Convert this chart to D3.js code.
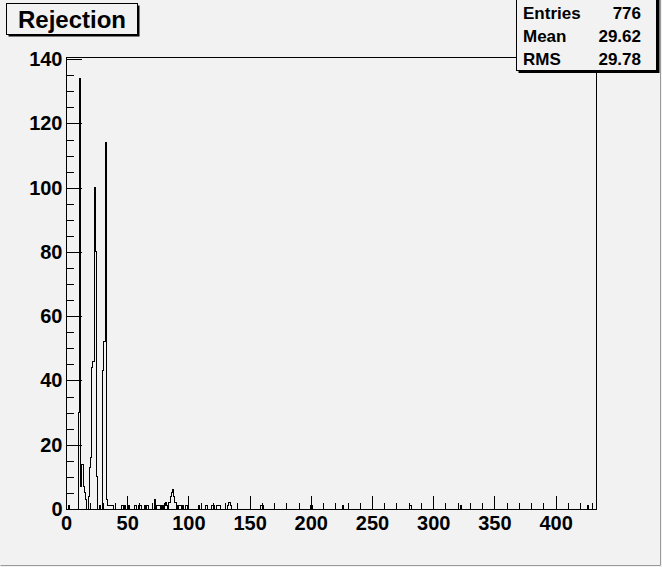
<!DOCTYPE html>
<html><head><meta charset="utf-8">
<script src="https://cdn.jsdelivr.net/npm/d3@7"></script>
<style>
html,body{margin:0;padding:0;background:#f2f2f2;}
svg{display:block;}
text{font-family:"Liberation Sans",Arial,Helvetica,sans-serif;font-weight:bold;fill:#000;}
</style></head>
<body>
<script>
// ---- data ----
const title = "Rejection";
const xRange = [0, 433];          // histogram axis range
const binWidth = 1;
// lower edges of non-empty bins and their contents
const binStarts = [2,10,11,12,13,14,15,16,18,19,20,21,22,23,24,25,27,30,31,32,33,34,35,36,37,38,
  45,46,48,51,56,57,59,60,61,64,66,72,74,75,76,78,80,81,82,84,85,86,87,88,89,90,92,93,95,98,
  108,114,115,119,120,123,124,125,132,133,134,159,160,200,226,281,322,426];
const binCounts = [1,30,134,7,14,7,5,3,4,13,16,44,46,100,80,10,1,43,52,114,3,1,1,1,1,1,
  1,1,1,1,1,1,1,1,1,1,1,3,1,1,1,1,1,2,1,2,4,5,6,4,2,1,1,1,1,1,
  1,1,1,1,1,1,1,1,1,2,1,1,1,1,1,1,1,1];
const yMax = 140.7;
const xMajorTicks = [0,50,100,150,200,250,300,350,400];
const yMajorTicks = [0,20,40,60,80,100,120,140];
const statLabels = ["Entries","Mean","RMS"];
const statValues = ["776","29.62","29.78"];

// ---- drawing ----
const W = 662, H = 567;
const svg = d3.select("body").append("svg").attr("width", W).attr("height", H);
svg.append("rect").attr("width", W).attr("height", H).attr("fill", "#f2f2f2");

const frame = {l: 66, r: 596, t: 57, b: 509};
const x = d3.scaleLinear().domain(xRange).range([frame.l, frame.r]);
const y = d3.scaleLinear().domain([0, yMax]).range([frame.b, frame.t]);

// full bin contents
const nBins = Math.round((xRange[1] - xRange[0]) / binWidth);
const contents = new Array(nBins).fill(0);
binStarts.forEach((s, i) => { contents[Math.round((s - xRange[0]) / binWidth)] = binCounts[i]; });

// frame
svg.append("rect").attr("x", frame.l + 0.5).attr("y", frame.t + 0.5)
  .attr("width", frame.r - frame.l).attr("height", frame.b - frame.t)
  .attr("fill", "none").attr("stroke", "#000").attr("stroke-width", 1);

// histogram outline
const pts = [[xRange[0], 0]];
contents.forEach((c, i) => {
  const lo = xRange[0] + i * binWidth;
  pts.push([lo, c]); pts.push([lo + binWidth, c]);
});
pts.push([xRange[1], 0]);
svg.append("path")
  .attr("d", d3.line().x(d => x(d[0])).y(d => y(d[1]))(pts))
  .attr("fill", "none").attr("stroke", "#000").attr("stroke-width", 1)
  .attr("shape-rendering", "crispEdges");

// x axis
const gx = svg.append("g").attr("transform", `translate(0,${frame.b + 0.5})`);
gx.append("g").call(d3.axisBottom(x).tickValues(d3.range(0, xRange[1], 10)).tickSize(-7).tickSizeOuter(0).tickFormat(""));
gx.append("g").call(d3.axisBottom(x).tickValues(xMajorTicks).tickSize(-14).tickSizeOuter(0).tickPadding(6).tickFormat(d3.format("d")));
gx.selectAll(".domain").remove();
gx.selectAll("text").attr("font-size", 20).attr("font-family", null).attr("font-weight", "bold").attr("fill", "#000");
gx.selectAll("line").attr("stroke", "#000").attr("shape-rendering", "crispEdges");

// y axis
const gy = svg.append("g").attr("transform", `translate(${frame.l + 0.5},0)`);
gy.append("g").call(d3.axisLeft(y).tickValues(d3.range(0, 141, 5)).tickSize(-7).tickSizeOuter(0).tickFormat(""));
gy.append("g").call(d3.axisLeft(y).tickValues(yMajorTicks).tickSize(-15).tickSizeOuter(0).tickPadding(4).tickFormat(d3.format("d")));
gy.selectAll(".domain").remove();
gy.selectAll("text").attr("font-size", 20).attr("font-family", null).attr("font-weight", "bold").attr("fill", "#000");
gy.selectAll("line").attr("stroke", "#000").attr("shape-rendering", "crispEdges");

// title box with shadow
svg.append("rect").attr("x", 8.5).attr("y", 5.5).attr("width", 131).attr("height", 31).attr("fill", "#000");
svg.append("rect").attr("x", 6.5).attr("y", 3.5).attr("width", 131).attr("height", 31)
  .attr("fill", "#f2f2f2").attr("stroke", "#000");
svg.append("text").attr("x", 72).attr("y", 28).attr("text-anchor", "middle")
  .attr("font-size", 24).text(title);

// stats box with shadow
svg.append("rect").attr("x", 518.5).attr("y", -1).attr("width", 141).attr("height", 74).attr("fill", "#000");
svg.append("rect").attr("x", 516.5).attr("y", -3).attr("width", 140).attr("height", 73.5)
  .attr("fill", "#f2f2f2").attr("stroke", "#000");
const rowY = [19, 42, 65];
statLabels.forEach((s, i) => {
  svg.append("text").attr("x", 523).attr("y", rowY[i]).attr("font-size", 17).text(s);
  svg.append("text").attr("x", 641).attr("y", rowY[i]).attr("font-size", 17).attr("text-anchor", "end").text(statValues[i]);
});

// canvas edge
svg.append("path").attr("d", `M0.5,${H - 1.5}H${W - 1.5}V0`).attr("fill", "none").attr("stroke", "#9a9a9a");
</script>
</body></html>
